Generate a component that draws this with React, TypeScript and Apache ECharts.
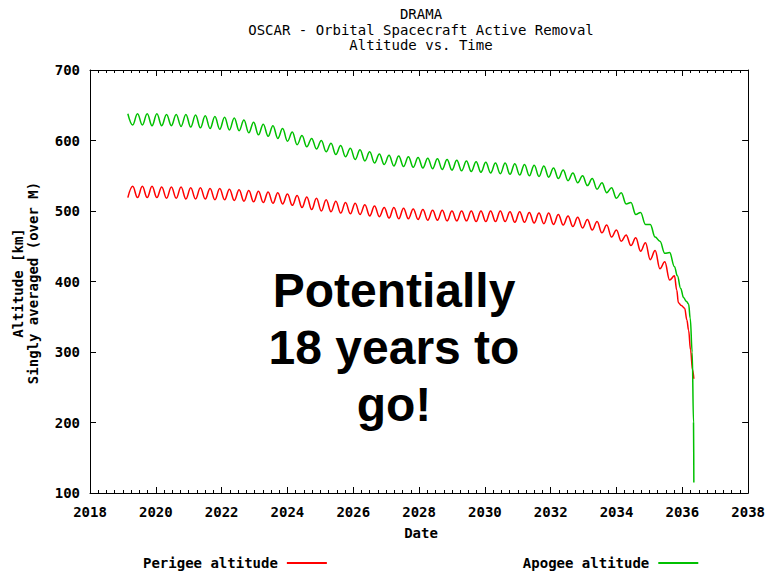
import React, { useEffect, useRef } from "react";
import * as echarts from "echarts";

// ---- Data ----
const TITLE_LINES = ["DRAMA", "OSCAR - Orbital Spacecraft Active Removal", "Altitude vs. Time"];
const X_NAME = "Date";
const Y_NAME_1 = "Altitude [km]";
const Y_NAME_2 = "Singly averaged (over M)";
const ANNOTATION = "Potentially\n18 years to\ngo!";
const SERIES_NAMES = ["Perigee altitude", "Apogee altitude"];

const X_TICKS = [2018, 2020, 2022, 2024, 2026, 2028, 2030, 2032, 2034, 2036, 2038];
const Y_TICKS = [100, 200, 300, 400, 500, 600, 700];

// successive extremes of the oscillation (half-period spacing), starting 2019.15
const OSC_START = 2019.15;
const OSC_HALF_PERIOD = 0.147;

const apogeeExtremes = [
  638, 622, 638, 622, 638, 621, 638, 621, 637, 621,
  637, 620, 637, 619, 636, 618, 635, 617, 634, 616,
  633, 615, 632, 614, 629, 611, 626, 608, 623, 606,
  621, 603, 617, 599, 612, 594, 607, 591, 603, 588,
  600, 584, 596, 580, 593, 577, 589, 573, 587, 571,
  584, 568, 581, 566, 579, 564, 578, 563, 577, 562,
  576, 561, 575, 560, 574, 559, 573, 558, 572, 557,
  571, 556, 570, 555, 569, 554, 568, 553, 568, 552,
  567, 551, 566, 550, 565, 549, 564, 548, 561, 546,
  558, 543, 554, 540, 550, 536, 546, 531, 540, 526,
  533, 518, 526, 510, 512, 495, 498, 481, 481, 463,
  457, 440, 441, 421,
];

const perigeeExtremes = [
  519, 535, 519, 535, 519, 535, 519, 534, 518, 534,
  518, 534, 517, 533, 517, 533, 517, 532, 516, 532,
  516, 531, 515, 530, 514, 529, 513, 528, 512, 527,
  511, 526, 510, 524, 508, 522, 505, 520, 502, 518,
  500, 516, 499, 514, 497, 512, 496, 511, 495, 509,
  493, 507, 492, 505, 490, 505, 489, 504, 489, 503,
  488, 502, 487, 501, 487, 501, 486, 500, 486, 500,
  486, 500, 485, 500, 485, 500, 485, 500, 485, 499,
  484, 499, 484, 498, 483, 497, 482, 497, 481, 495,
  480, 493, 478, 491, 476, 488, 473, 485, 469, 480,
  463, 473, 457, 466, 451, 462, 443, 455, 431, 444,
  418, 428, 402, 408,
];

// final decay
const apogeeTailTimes = [2035.85, 2035.95, 2036.04, 2036.12, 2036.19, 2036.24, 2036.3, 2036.34, 2036.35];
const apogeeTailValues = [408, 390, 377, 372, 368, 348, 300, 200, 115];
const perigeeTailTimes = [2035.83, 2035.88, 2035.97, 2036.07, 2036.14, 2036.19, 2036.25, 2036.31, 2036.35];
const perigeeTailValues = [388, 370, 366, 362, 345, 331, 303, 275, 262];

const MONO = "'DejaVu Sans Mono', 'Liberation Mono', monospace";

function buildSeries(extremes: number[], tailT: number[], tailV: number[]) {
  const pts: number[][] = extremes.map((v, i) => [OSC_START + i * OSC_HALF_PERIOD, v]);
  tailT.forEach((t, i) => pts.push([t, tailV[i]]));
  return pts;
}

export default function App() {
  const ref = useRef<HTMLDivElement>(null);

  useEffect(() => {
    const chart = echarts.init(ref.current as HTMLDivElement, null, { renderer: "svg" });
    const perigee = buildSeries(perigeeExtremes, perigeeTailTimes, perigeeTailValues);
    const apogee = buildSeries(apogeeExtremes, apogeeTailTimes, apogeeTailValues);

    const xMin = X_TICKS[0];
    const xMax = X_TICKS[X_TICKS.length - 1];
    const yMin = Y_TICKS[0];
    const yMax = Y_TICKS[Y_TICKS.length - 1];

    const axisLine = { show: true, lineStyle: { color: "#000", width: 1 } };
    const tick = { show: true, inside: true, length: 6, lineStyle: { color: "#000", width: 1 } };
    const minor = { show: true, splitNumber: 8, length: 3, lineStyle: { color: "#000", width: 1 } };
    const labelStyle = { fontFamily: MONO, fontSize: 14, fontWeight: "bold", color: "#000" };

    chart.setOption({
      animation: false,
      backgroundColor: "#fff",
      grid: { left: 90, right: 16, top: 70, bottom: 79, containLabel: false },
      xAxis: [
        {
          type: "value", min: xMin, max: xMax, interval: 2, position: "bottom",
          axisLine, axisTick: tick, minorTick: minor, splitLine: { show: false },
          axisLabel: { ...labelStyle, margin: 12, formatter: (v: number) => String(v) },
        },
        {
          type: "value", min: xMin, max: xMax, interval: 2, position: "top",
          axisLine, axisTick: tick, minorTick: minor, splitLine: { show: false },
          axisLabel: { show: false },
        },
      ],
      yAxis: [
        {
          type: "value", min: yMin, max: yMax, interval: 100, position: "left",
          axisLine, axisTick: tick, splitLine: { show: false },
          axisLabel: { ...labelStyle, margin: 10 },
        },
        {
          type: "value", min: yMin, max: yMax, interval: 100, position: "right",
          axisLine, axisTick: tick, splitLine: { show: false },
          axisLabel: { show: false },
        },
      ],
      legend: {
        left: 143, top: 556, padding: 0, align: "right", icon: "rect", itemWidth: 40, itemHeight: 2,
        itemGap: 196, selectedMode: false,
        textStyle: { fontFamily: MONO, fontSize: 14, fontWeight: "bold", color: "#000", padding: [0, 4, 0, 0] },
        data: SERIES_NAMES,
      },
      series: [
        {
          name: SERIES_NAMES[0], type: "line", data: perigee, showSymbol: false, symbol: "none",
          smooth: 0.4, smoothMonotone: "x", color: "#ff0000",
          lineStyle: { color: "#ff0000", width: 1.5 },
        },
        {
          name: SERIES_NAMES[1], type: "line", data: apogee, showSymbol: false, symbol: "none",
          smooth: 0.4, smoothMonotone: "x", color: "#00c000",
          lineStyle: { color: "#00c000", width: 1.5 },
        },
      ],
      graphic: [
        ...TITLE_LINES.map((t, i) => ({
          type: "text", x: 421, y: 14 + i * 15.5,
          style: { text: t, fontFamily: MONO, fontSize: 14, fill: "#000", textAlign: "center", textVerticalAlign: "middle" },
        })),
        {
          type: "text", x: 421, y: 533,
          style: { text: X_NAME, fontFamily: MONO, fontSize: 14, fontWeight: "bold", fill: "#000", textAlign: "center", textVerticalAlign: "middle" },
        },
        {
          type: "text", x: 18, y: 283, rotation: Math.PI / 2,
          style: { text: Y_NAME_1, fontFamily: MONO, fontSize: 14, fontWeight: "bold", fill: "#000", textAlign: "center", textVerticalAlign: "middle" },
        },
        {
          type: "text", x: 33, y: 283, rotation: Math.PI / 2,
          style: { text: Y_NAME_2, fontFamily: MONO, fontSize: 14, fontWeight: "bold", fill: "#000", textAlign: "center", textVerticalAlign: "middle" },
        },
        {
          type: "text", x: 394, y: 347,
          style: {
            text: ANNOTATION, fontFamily: "'Liberation Sans', Arial, sans-serif", fontSize: 48, fontWeight: "bold",
            fill: "#000", textAlign: "center", textVerticalAlign: "middle", lineHeight: 57,
          },
        },
      ],
    });
    return () => chart.dispose();
  }, []);

  return <div ref={ref} style={{ position: "absolute", left: 0, top: 0, width: 768, height: 572 }} />;
}
